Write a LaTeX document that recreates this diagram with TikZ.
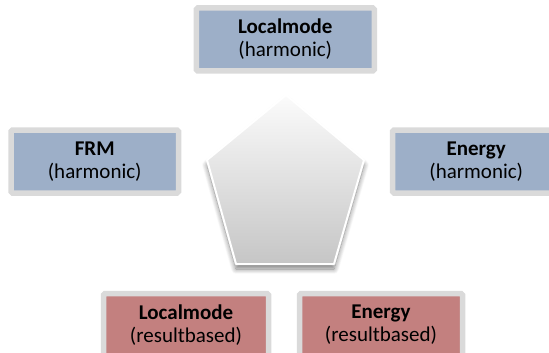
\documentclass[tikz,border=0pt]{standalone}
\usepackage{fontspec}
\setmainfont{Carlito}
\usepackage{xcolor}
\usepackage{tikz}
\usetikzlibrary{shadows.blur}
\definecolor{harmonic}{HTML}{9DAFC8}
\definecolor{resultbased}{HTML}{C3807F}
\definecolor{frame}{HTML}{DADADA}
\tikzset{
	methodbox/.style = {draw = frame, line width = 5.5pt, rounded corners = 1.5pt, inner sep = 0pt,
		minimum height = 63pt, align = center, font = \fontsize{21}{23}\selectfont}
}
\newcommand{\methodNode}[6]{
	\node[methodbox, fill = #2, minimum width = #3] (#1) at (#4) {\textbf{#5}\\#6};
}
\begin{document}
\begin{tikzpicture}[x = 1pt, y = -1pt]%
		\useasboundingbox (0, 0) rectangle (549, 353);

		% centre
		\coordinate (top) at (286, 95);
		\coordinate (right) at (364, 160);
		\coordinate (botRight) at (334, 264);
		\coordinate (botLeft) at (236, 264);
		\coordinate (left) at (207, 160);
		\shade[top color = gray!3, bottom color = gray!45, draw = white, line width = 2pt, line join = round,
			blur shadow = {shadow xshift = 0pt, shadow yshift = -5pt, shadow blur radius = 5pt,
				shadow blur steps = 10, shadow opacity = 50}]
			(top) -- (right) -- (botRight) -- (botLeft) -- (left) -- cycle;

		% harmonic
		\methodNode{lmHarm}{harmonic}{178pt}{285.25, 39.5}{Localmode}{(harmonic)}
		\methodNode{frmHarm}{harmonic}{167.5pt}{94.75, 161.5}{FRM}{(harmonic)}
		\methodNode{enHarm}{harmonic}{167.5pt}{476.25, 161.5}{Energy}{(harmonic)}

		% resultbased
		\methodNode{lmRes}{resultbased}{165pt}{186, 325}{Localmode}{(resultbased)}
		\methodNode{enRes}{resultbased}{163pt}{381, 325}{Energy}{(resultbased)}
	\end{tikzpicture}
\end{document}
